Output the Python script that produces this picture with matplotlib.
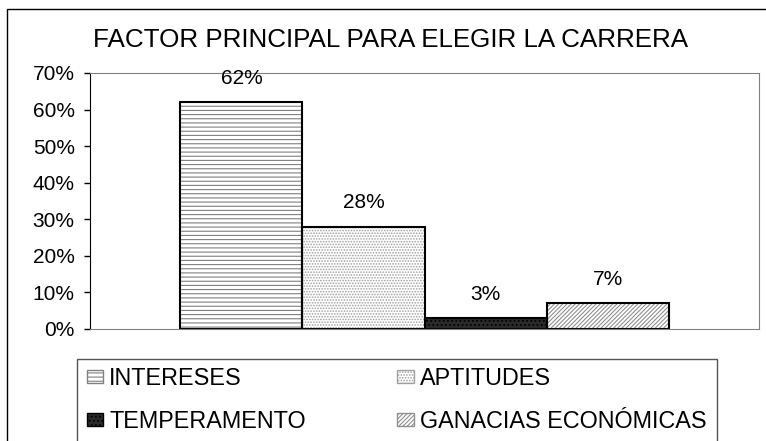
import matplotlib
matplotlib.use("Agg")
import matplotlib.pyplot as plt
from matplotlib.patches import Rectangle, Patch

categories = ["INTERESES", "APTITUDES", "TEMPERAMENTO", "GANACIAS ECONÓMICAS"]
values = [62, 28, 3, 7]
value_labels = ["62%", "28%", "3%", "7%"]
y_ticks = [0, 10, 20, 30, 40, 50, 60, 70]
y_tick_labels = ["0%", "10%", "20%", "30%", "40%", "50%", "60%", "70%"]
title = "FACTOR PRINCIPAL PARA ELEGIR LA CARRERA"

faces = ["white", "white", "#2a2a2a", "white"]
hatches = ["----", "......", "....", "////////"]
hatch_cols = ["#808080", "#a0a0a0", "#000000", "#909090"]

plt.rcParams["font.family"] = ["Liberation Sans", "DejaVu Sans"]
plt.rcParams["hatch.linewidth"] = 0.8

W, H = 766, 441
fig = plt.figure(figsize=(W / 100, H / 100), dpi=100)
ax = fig.add_axes([90 / W, 1 - 329 / H, (759 - 90) / W, (329 - 73) / H])

xs = list(range(len(values)))
# hatched fill (hatch takes the edge colour), then a black outline on top
ax.bar(xs, values, width=1.0, color=faces, edgecolor=hatch_cols, hatch=hatches, linewidth=0)
ax.bar(xs, values, width=1.0, fill=False, edgecolor="black", linewidth=1.5)

for x, v, lab in zip(xs, values, value_labels):
    ax.annotate(lab, (x, v), xytext=(0, 17), textcoords="offset points",
                ha="center", va="center", fontsize=15)

ax.set_xlim(-1.24, 4.24)
ax.set_ylim(0, 70)
ax.set_yticks(y_ticks)
ax.set_yticklabels(y_tick_labels, fontsize=15)
ax.set_xticks([])
ax.tick_params(axis="y", length=4, width=1, pad=7, color="black")
for side in ["top", "right", "bottom"]:
    ax.spines[side].set_color("#808080")
ax.spines["left"].set_color("black")

fig.text(391 / W, 1 - 40 / H, title, ha="center", va="center", fontsize=18.7)

# outer chart frame and legend box
fig.patches.append(Rectangle((7 / W, -0.1), 2, 1 - 9 / H + 0.1, transform=fig.transFigure,
                             fill=False, edgecolor="black", linewidth=1))
fig.patches.append(Rectangle((77 / W, -0.1), (717 - 77) / W, 1 - 359 / H + 0.1,
                             transform=fig.transFigure, fill=False,
                             edgecolor="#555555", linewidth=1))

# legend filled row by row: INTERESES, APTITUDES / TEMPERAMENTO, GANACIAS
order = [0, 2, 1, 3]
handles = [Patch(facecolor=faces[i], edgecolor=hatch_cols[i], hatch=hatches[i]) for i in order]
labels = [categories[i] for i in order]
fig.legend(handles, labels, loc="upper left", bbox_to_anchor=(75 / W, 1 - 355 / H),
           ncol=2, frameon=False, fontsize=16.8, handlelength=0.72, handleheight=0.5,
           handletextpad=0.25, columnspacing=3.9, labelspacing=0.86, borderpad=0)

fig.savefig("out.png", dpi=100)
